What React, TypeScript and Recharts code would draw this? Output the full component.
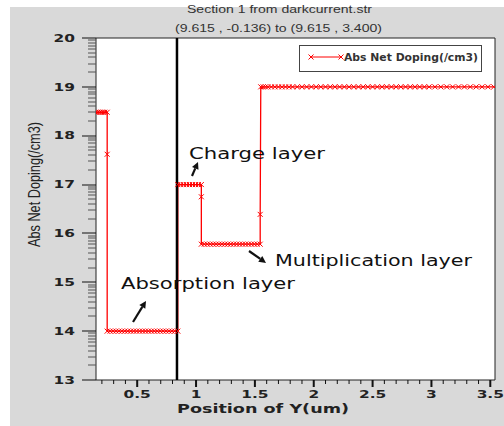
import { LineChart, Line, XAxis, YAxis, ReferenceLine, ReferenceArea, Legend } from "recharts";

// position of Y (um) for each sample of the cut line
const posY = [
  0.15, 0.165, 0.18, 0.195, 0.21, 0.225, 0.245,
  0.245,
  0.245, 0.27, 0.295, 0.32, 0.345, 0.37, 0.395, 0.42, 0.445, 0.47, 0.495, 0.52, 0.545,
  0.57, 0.595, 0.62, 0.645, 0.67, 0.695, 0.72, 0.745, 0.77, 0.795, 0.82, 0.845,
  0.845, 0.87, 0.895, 0.92, 0.945, 0.97, 0.995, 1.02, 1.045,
  1.045,
  1.045, 1.07, 1.095, 1.12, 1.145, 1.17, 1.195, 1.22, 1.245, 1.27, 1.295,
  1.32, 1.345, 1.37, 1.395, 1.42, 1.445, 1.47, 1.495, 1.52, 1.545,
  1.545,
  1.55, 1.57, 1.59, 1.61, 1.64, 1.67, 1.7, 1.73, 1.76, 1.79, 1.82, 1.86, 1.9,
  1.94, 1.98, 2.02, 2.06, 2.1, 2.14, 2.18, 2.22, 2.26, 2.3, 2.34, 2.38, 2.42,
  2.46, 2.5, 2.54, 2.58, 2.62, 2.66, 2.7, 2.74, 2.78, 2.82, 2.86, 2.9, 2.94,
  2.98, 3.03, 3.08, 3.13, 3.18, 3.23, 3.28, 3.33, 3.38, 3.43, 3.48, 3.53,
];

// log10 of abs net doping
const doping = [
  18.48, 18.48, 18.48, 18.48, 18.48, 18.48, 18.48,
  17.62,
  14.0, 14.0, 14.0, 14.0, 14.0, 14.0, 14.0, 14.0, 14.0, 14.0, 14.0, 14.0, 14.0,
  14.0, 14.0, 14.0, 14.0, 14.0, 14.0, 14.0, 14.0, 14.0, 14.0, 14.0, 14.0,
  17.0, 17.0, 17.0, 17.0, 17.0, 17.0, 17.0, 17.0, 17.0,
  16.75,
  15.78, 15.78, 15.78, 15.78, 15.78, 15.78, 15.78, 15.78, 15.78, 15.78, 15.78,
  15.78, 15.78, 15.78, 15.78, 15.78, 15.78, 15.78, 15.78, 15.78, 15.78,
  16.39,
  19.0, 19.0, 19.0, 19.0, 19.0, 19.0, 19.0, 19.0, 19.0, 19.0, 19.0, 19.0, 19.0,
  19.0, 19.0, 19.0, 19.0, 19.0, 19.0, 19.0, 19.0, 19.0, 19.0, 19.0, 19.0, 19.0,
  19.0, 19.0, 19.0, 19.0, 19.0, 19.0, 19.0, 19.0, 19.0, 19.0, 19.0, 19.0, 19.0,
  19.0, 19.0, 19.0, 19.0, 19.0, 19.0, 19.0, 19.0, 19.0, 19.0, 19.0, 19.0,
];

const yMajor = [13, 14, 15, 16, 17, 18, 19, 20];
const xLabels = [0.5, 1, 1.5, 2, 2.5, 3, 3.5];
const boundaryX = 0.838;

const data = posY.map((x, i) => ({ x, y: doping[i] }));

// minor ticks: every 0.1 on x, log decades on y
const xTicks = Array.from({ length: 34 }, (_, i) => +(0.2 + i * 0.1).toFixed(1));
const yTicks = yMajor
  .slice(0, -1)
  .flatMap((n) => [1, 2, 3, 4, 5, 6, 7, 8, 9].map((k) => +(n + Math.log10(k)).toFixed(4)))
  .concat([20]);

const MARGIN = { top: 38, right: 9, bottom: 0, left: 10 };
const Y_AXIS_W = 86;
const PLOT_LEFT = MARGIN.left + Y_AXIS_W;
const SX = 1.4; // source image is stretched horizontally

const XMark = (props: any) => {
  const { cx, cy } = props;
  if (cx == null || cy == null) return null;
  const s = 2.5;
  return (
    <g stroke="#ff0000" strokeWidth={1}>
      <line x1={cx - s} y1={cy - s} x2={cx + s} y2={cy + s} />
      <line x1={cx - s} y1={cy + s} x2={cx + s} y2={cy - s} />
    </g>
  );
};

const YTick = (props: any) => {
  const { y, payload } = props;
  const v = Number(payload.value);
  const major = Math.abs(v - Math.round(v)) < 1e-6;
  const x = PLOT_LEFT;
  const len = major ? 14 : 8;
  return (
    <g>
      <rect x={x - len} y={Math.round(y) - 0.5} width={len} height={1} fill={major ? "#111" : "#555"} stroke="none" />
      {major && (
        <text
          transform={`translate(${x - 21},${y}) scale(${SX},1)`}
          textAnchor="end"
          dominantBaseline="central"
          fontFamily="DejaVu Sans"
          fontWeight="bold"
          fontSize={11}
          fill="#222"
          stroke="none"
        >
          {Math.round(v)}
        </text>
      )}
    </g>
  );
};

const XTick = ({ x, y, payload }: any) => {
  const v = payload.value;
  const major = xLabels.some((l) => Math.abs(l - v) < 1e-6);
  const w = major ? 2 : 1;
  return (
    <g>
      <rect x={x - w / 2} y={y} width={w} height={major ? 7 : 4} fill="#111" stroke="none" />
      {major && (
        <text
          transform={`translate(${x},${y + 18}) scale(${SX},1)`}
          textAnchor="middle"
          fontFamily="DejaVu Sans"
          fontWeight="bold"
          fontSize={11}
          fill="#222"
          stroke="none"
        >
          {String(v)}
        </text>
      )}
    </g>
  );
};

const LegendBox = () => (
  <div style={{ width: 183, height: 27, boxSizing: "border-box", border: "1.5px solid #444", background: "#fff" }}>
    <svg width={180} height={24} style={{ display: "block" }}>
      <line x1={11} y1={11} x2={41} y2={11} stroke="#ff0000" strokeWidth={1} />
      <XMark cx={11} cy={11} />
      <XMark cx={41} cy={11} />
      <text x={44} y={15} textLength={134} lengthAdjust="spacingAndGlyphs" fontFamily="DejaVu Sans" fontWeight="bold" fontSize={10} fill="#333">
        Abs Net Doping(/cm3)
      </text>
    </svg>
  </div>
);

const Arrow = ({ x1, y1, x2, y2 }: { x1: number; y1: number; x2: number; y2: number }) => {
  const a = Math.atan2(y2 - y1, x2 - x1);
  const L = 7;
  const W = 3.5;
  const bx = x2 - L * Math.cos(a);
  const by = y2 - L * Math.sin(a);
  const px = -Math.sin(a) * W;
  const py = Math.cos(a) * W;
  return (
    <g>
      <line x1={x1} y1={y1} x2={bx} y2={by} stroke="#111" strokeWidth={2.2} />
      <polygon points={`${x2},${y2} ${bx + px},${by + py} ${bx - px},${by - py}`} fill="#111" />
    </g>
  );
};

const label = (x: number, y: number, len: number, text: string, size: number, extra: any = {}) => (
  <text x={x} y={y} textLength={len} lengthAdjust="spacingAndGlyphs" fontSize={size} {...extra}>
    {text}
  </text>
);

export default function App() {
  return (
    <div style={{ position: "absolute", left: 0, top: 0, width: 504, height: 426, background: "#fff", overflow: "hidden" }}>
      <div style={{ position: "absolute", left: 10, top: 7, right: 0, bottom: 0, background: "#d9d9d9" }} />
      <div style={{ position: "absolute", left: 0, top: 0 }}>
        <LineChart width={504} height={426} data={data} margin={MARGIN}>
          <ReferenceArea x1={0.15} x2={3.54} y1={13} y2={20} fill="#fff" fillOpacity={1} stroke="#222" strokeWidth={1} />
          <XAxis
            dataKey="x"
            type="number"
            domain={[0.15, 3.54]}
            ticks={xTicks}
            interval={0}
            tick={<XTick />}
            tickLine={false}
            axisLine={false}
            tickSize={0}
            tickMargin={0}
            height={46}
            allowDataOverflow
          />
          <YAxis
            type="number"
            domain={[13, 20]}
            ticks={yTicks}
            interval={0}
            minTickGap={0}
            tick={<YTick />}
            tickLine={false}
            axisLine={false}
            tickSize={0}
            tickMargin={0}
            width={Y_AXIS_W}
            allowDataOverflow
          />
          <Line
            type="linear"
            dataKey="y"
            stroke="#ff0000"
            strokeWidth={1.3}
            dot={<XMark />}
            activeDot={false}
            isAnimationActive={false}
          />
          <ReferenceLine x={boundaryX} stroke="#000" strokeWidth={2.5} />
          <Legend
            layout="vertical"
            align="center"
            verticalAlign="middle"
            content={<LegendBox />}
            wrapperStyle={{ position: "absolute", left: 299, top: 45, width: 183, height: 27 }}
          />
        </LineChart>
      </div>
      <svg width={504} height={426} style={{ position: "absolute", left: 0, top: 0, pointerEvents: "none" }}>
        {label(187, 13, 185, "Section 1 from darkcurrent.str", 10, { fontFamily: "Liberation Sans", fill: "#333" })}
        {label(175, 32, 207, "(9.615 , -0.136) to (9.615 , 3.400)", 10, { fontFamily: "Liberation Sans", fill: "#333" })}
        {label(177, 413, 172, "Position of Y(um)", 12, { fontFamily: "DejaVu Sans", fontWeight: "bold", fill: "#222" })}
        <text
          transform={`translate(34,184.5) scale(${SX},1) rotate(-90)`}
          textAnchor="middle"
          dominantBaseline="central"
          textLength={125}
          lengthAdjust="spacingAndGlyphs"
          fontFamily="Liberation Sans"
          fontSize={12}
          fill="#222"
        >
          Abs Net Doping(/cm3)
        </text>
        {label(189, 159, 136, "Charge layer", 15, { fontFamily: "DejaVu Sans", fill: "#111" })}
        {label(275, 266, 197, "Multiplication layer", 15, { fontFamily: "DejaVu Sans", fill: "#111" })}
        {label(121, 289, 174, "Absorption layer", 15, { fontFamily: "DejaVu Sans", fill: "#111" })}
        <Arrow x1={192} y1={176} x2={198} y2={162} />
        <Arrow x1={249} y1={251} x2={266} y2={263} />
        <Arrow x1={133} y1={322} x2={146} y2={301} />
      </svg>
    </div>
  );
}
